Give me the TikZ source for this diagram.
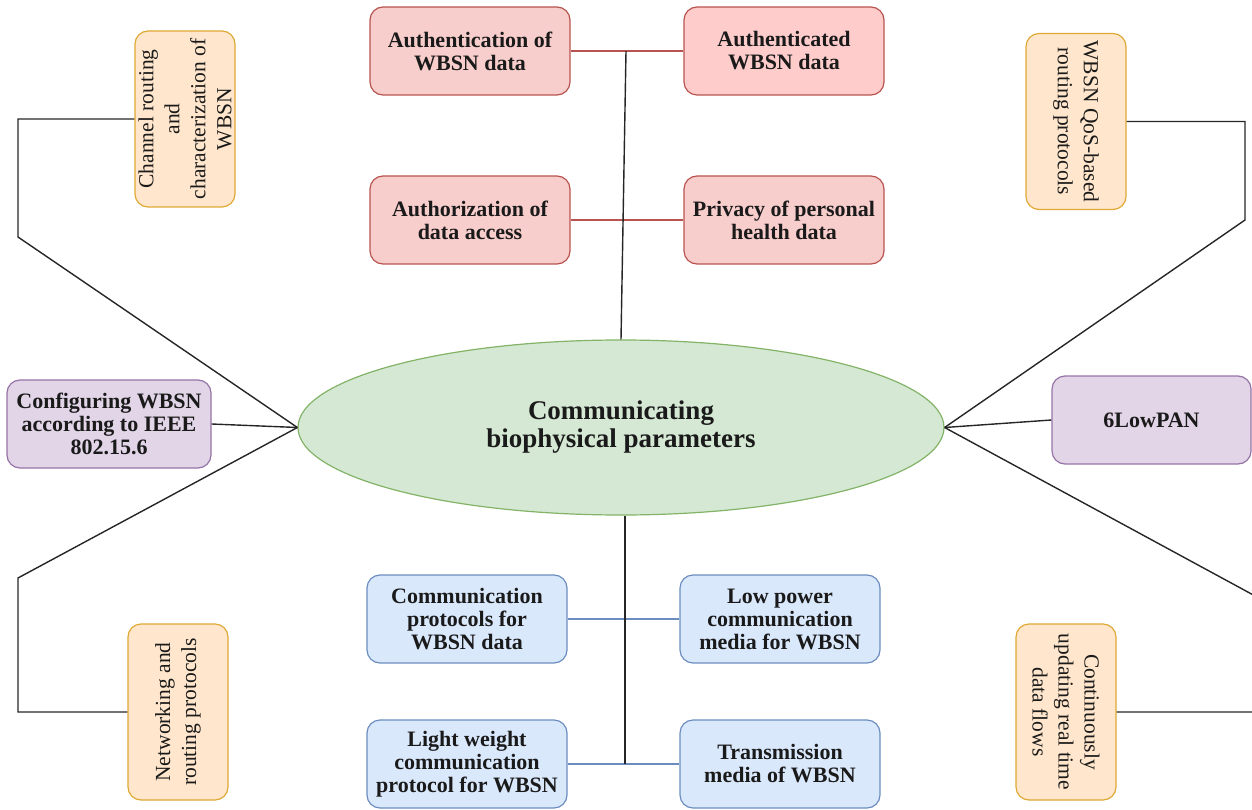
\documentclass[tikz,border=0pt]{standalone}
\usepackage{fontspec}
\setmainfont{Liberation Serif}
\usetikzlibrary{shapes.geometric}

\definecolor{redfill}{HTML}{F8CECC}
\definecolor{redfillb}{HTML}{FFCCCC}
\definecolor{redline}{HTML}{B85450}
\definecolor{bluefill}{HTML}{DAE8FC}
\definecolor{blueline}{HTML}{6C8EBF}
\definecolor{purfill}{HTML}{E1D5E7}
\definecolor{purline}{HTML}{9673A6}
\definecolor{orfill}{HTML}{FFE6CC}
\definecolor{orline}{HTML}{DFA935}
\definecolor{grfill}{HTML}{D5E8D4}
\definecolor{grline}{HTML}{82B366}
\definecolor{txt}{HTML}{1A1A1A}

\begin{document}
\begin{tikzpicture}[x=1pt, y=-1pt,
  hbox/.style={draw, rounded corners=13pt, line width=1.2pt,
    minimum width=200pt, minimum height=88pt, inner sep=2pt, align=center,
    text=txt, font=\bfseries\fontsize{22}{23}\selectfont},
  redbox/.style={hbox, fill=redfill, draw=redline},
  bluebox/.style={hbox, fill=bluefill, draw=blueline},
  purbox/.style={hbox, fill=purfill, draw=purline},
  vbox/.style={draw=orline, fill=orfill, rounded corners=13pt, line width=1.2pt,
    minimum width=176pt, minimum height=100pt, inner sep=1pt, align=center,
    text=txt, font=\fontsize{21.5}{26}\selectfont},
  link/.style={line width=1.4pt, draw=black!85},
  redlink/.style={line width=1.2pt, draw=redline},
  bluelink/.style={line width=1.2pt, draw=blueline}]

\useasboundingbox (0,0) rectangle (1252,810);

% central topic
\node[ellipse, draw=grline, fill=grfill, line width=1.2pt,
  minimum width=646pt, minimum height=175pt, inner sep=0pt, align=center,
  text=txt, font=\bfseries\fontsize{27}{28}\selectfont]
  (ell) at (621,427.5) {Communicating\\biophysical parameters};

% security group (top)
\node[redbox] (auth1) at (470,51) {Authentication of\\WBSN data};
\node[redbox, fill=redfillb] (auth2) at (784,51) {Authenticated\\WBSN data};
\node[redbox] (authz) at (470,220) {Authorization of\\data access};
\node[redbox] (priv) at (784,220) {Privacy of personal\\health data};

% communication group (bottom)
\node[bluebox] (comm) at (467,619) {Communication\\protocols for\\WBSN data};
\node[bluebox] (lowp) at (780,619) {Low power\\communication\\media for WBSN};
\node[bluebox] (light) at (467,764) {Light weight\\communication\\protocol for WBSN};
\node[bluebox] (trans) at (780,764) {Transmission\\media of WBSN};

% standards
\node[purbox, minimum width=204pt] (conf) at (109,424) {Configuring WBSN\\according to IEEE\\802.15.6};
\node[purbox, minimum width=199pt] (low6) at (1151.5,420) {6LowPAN};

% routing topics (vertical text)
\node[vbox, rotate=90] (chan) at (185,119) {Channel routing\\and\\characterization of\\WBSN};
\node[vbox, rotate=-90] (qos) at (1076,121.5) {WBSN QoS-based\\routing protocols};
\node[vbox, rotate=90] (net) at (178,712) {Networking and\\routing protocols};
\node[vbox, rotate=-90] (cont) at (1066,712) {Continuously\\updating real time\\data flows};

% spine junctions and bends
\coordinate (tj) at (626,51);
\coordinate (bx) at (625,0);
\coordinate (ltop) at (18,237);
\coordinate (lbot) at (18,578);
\coordinate (rtop) at (1245,220);
\coordinate (rbot) at (1257,597);

% top spine with its cross links
\draw[redlink] (auth1.east) -- (auth2.west);
\draw[redlink] (authz.east) -- (priv.west);
\draw[link] (tj) -- (ell.north);

% bottom spine with its cross links
\draw[bluelink] (comm.east) -- (lowp.west);
\draw[bluelink] (light.east) -- (trans.west);
\draw[link] (ell.south -| bx) -- (light.east -| bx);

% left side
\draw[link] (chan.north) -- (chan.north -| ltop) -- (ltop) -- (ell.west);
\draw[link] (conf.east) -- (ell.west);
\draw[link] (net.north) -- (net.north -| lbot) -- (lbot) -- (ell.west);

% right side
\draw[link] (qos.north) -- (qos.north -| rtop) -- (rtop) -- (ell.east);
\draw[link] (low6.west) -- (ell.east);
\draw[link] (ell.east) -- (rbot) -- (rbot |- cont.north) -- (cont.north);

\end{tikzpicture}
\end{document}
